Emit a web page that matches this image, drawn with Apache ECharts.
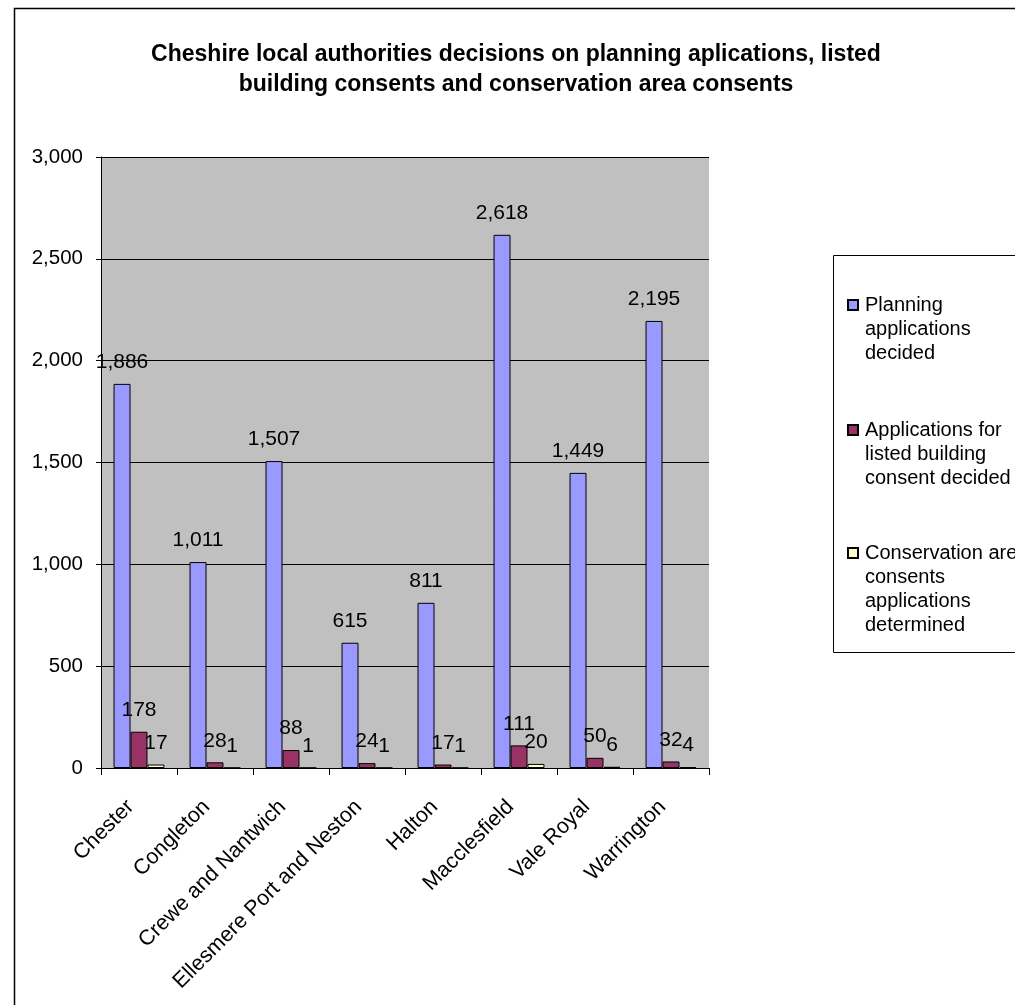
<!DOCTYPE html>
<html>
<head>
<meta charset="utf-8">
<style>html,body{margin:0;padding:0;background:#fff}#c{width:1015px;height:1005px}</style>
<script src="https://cdn.jsdelivr.net/npm/echarts@6/dist/echarts.min.js"></script>
</head>
<body>
<div id="c"></div>
<script>
var categories = ["Chester", "Congleton", "Crewe and Nantwich", "Ellesmere Port and Neston", "Halton", "Macclesfield", "Vale Royal", "Warrington"];
var planningDecided = [1886, 1011, 1507, 615, 811, 2618, 1449, 2195];
var listedBuildingDecided = [178, 28, 88, 24, 17, 111, 50, 32];
var conservationDetermined = [17, 1, 1, 1, 1, 20, 6, 4];
var seriesNames = ["Planning\napplications\ndecided", "Applications for\nlisted building\nconsent decided", "Conservation area\nconsents\napplications\ndetermined"];
var yTicks = [0, 500, 1000, 1500, 2000, 2500, 3000];

var FONT = "'Liberation Sans', Arial, sans-serif";
function fmt(v) { return Number(v).toLocaleString('en-US'); }

var chart = echarts.init(document.getElementById('c'));
function mkSeries(name, data, color) {
  return {
    name: name, type: 'bar', data: data,
    barGap: '0%', barCategoryGap: '33%',
    itemStyle: { color: color, borderColor: '#000', borderWidth: 1 },
    label: { show: true, position: 'top', distance: 11, formatter: function (p) { return fmt(p.value); },
      color: '#000', fontFamily: FONT, fontSize: 21 }
  };
}
// legend: pad with blank lines so the icon sits beside the first line of text
function padLegend(name) {
  var n = name.split('\n').length;
  var pre = '';
  for (var i = 0; i < n - 1; i++) pre += ' \n';
  return pre + name;
}
var LH = 24;
var iconCenters = [305, 430, 553];
var legends = seriesNames.map(function (nm, i) {
  var n = nm.split('\n').length;
  var total = 2 * n - 1;
  return {
    orient: 'vertical', left: 847, top: iconCenters[i] - total * LH / 2,
    itemWidth: 10, itemHeight: 10, padding: 0, icon: 'rect',
    formatter: function (name) { return padLegend(name); },
    textStyle: { fontFamily: FONT, fontSize: 20, color: '#000', lineHeight: LH, padding: [0, 0, 0, 2] },
    data: [nm]
  };
});
chart.setOption({
  animation: false,
  backgroundColor: '#fff',
  title: {
    text: 'Cheshire local authorities decisions on planning aplications, listed\nbuilding consents and conservation area consents',
    left: 511, textAlign: 'center', top: 35,
    textStyle: { fontFamily: FONT, fontSize: 23, fontWeight: 'bold', color: '#000', lineHeight: 30 }
  },
  graphic: [
    { type: 'rect', shape: { x: 14.5, y: 8.5, width: 1100, height: 1100 }, style: { fill: 'none', stroke: '#000', lineWidth: 1.5 }, z: -1 },
    { type: 'rect', shape: { x: 833.5, y: 255.5, width: 300, height: 397 }, style: { fill: 'none', stroke: '#000', lineWidth: 1 }, z: 10 }
  ],
  legend: legends,
  grid: { left: 101, top: 157, width: 608, height: 611, backgroundColor: '#C0C0C0', show: true, borderWidth: 0 },
  xAxis: {
    type: 'category', data: categories,
    axisLine: { lineStyle: { color: '#000', width: 1 } },
    axisTick: { show: true, length: 7, lineStyle: { color: '#000' } },
    axisLabel: { rotate: 45, interval: 0, margin: 27, padding: [0, 12, 0, 0], color: '#000', fontFamily: FONT, fontSize: 21.5 }
  },
  yAxis: {
    type: 'value', min: yTicks[0], max: yTicks[yTicks.length - 1], interval: 500,
    axisLine: { show: true, lineStyle: { color: '#000', width: 1 } },
    axisTick: { show: true, length: 5, lineStyle: { color: '#000' } },
    splitLine: { lineStyle: { color: '#000', width: 1 } },
    axisLabel: { margin: 18, color: '#000', fontFamily: FONT, fontSize: 20.5, formatter: function (v) { return fmt(v); } }
  },
  series: [
    mkSeries(seriesNames[0], planningDecided, '#9999FF'),
    mkSeries(seriesNames[1], listedBuildingDecided, '#993366'),
    mkSeries(seriesNames[2], conservationDetermined, '#FFFFCC')
  ]
});
</script>
</body>
</html>
